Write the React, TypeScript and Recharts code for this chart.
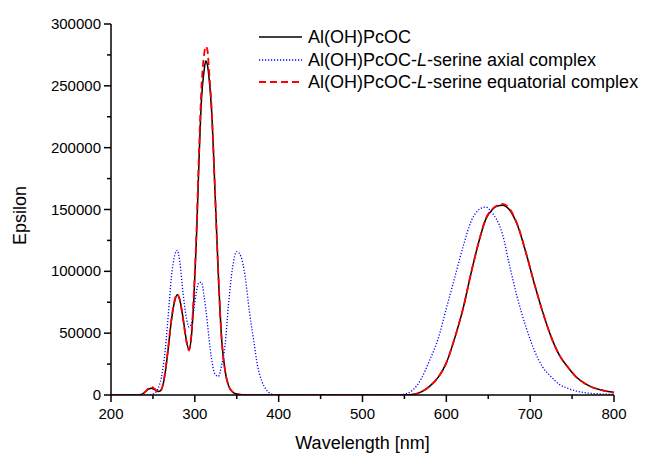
import React from 'react';
import { LineChart, Line, XAxis, YAxis, Legend, Label } from 'recharts';

const wavelengths = [200, 210, 220, 230, 235, 240, 245, 248, 252, 256, 260, 264, 268, 272, 276, 279, 282, 286, 290, 293, 296, 299, 302, 305, 308, 311, 313, 315, 317, 320, 324, 328, 332, 336, 340, 345, 350, 355, 360, 365, 370, 375, 380, 385, 390, 395, 400, 450, 500, 540, 550, 560, 570, 580, 590, 600, 610, 620, 630, 640, 647, 655, 660, 667, 675, 685, 695, 705, 715, 725, 735, 745, 755, 765, 775, 785, 800];

const pcoc = [0, 0, 0, 0, 300, 2000, 4800, 5500, 4300, 2900, 4000, 15000, 36000, 60000, 76000, 81000, 77000, 62000, 44000, 36500, 48000, 80000, 128000, 190000, 240000, 262000, 270000, 267000, 256000, 230000, 166000, 98000, 45000, 20000, 8000, 2500, 800, 200, 0, 0, 0, 0, 0, 0, 0, 0, 0, 0, 0, 0, 0, 400, 2500, 7000, 14000, 26000, 46000, 70000, 100000, 127000, 142000, 150000, 152500, 153500, 150000, 137000, 115000, 90000, 67000, 47000, 32000, 22500, 14500, 9400, 6000, 4000, 2000];

const axial = [0, 0, 0, 0, 0, 0, 0, 300, 1500, 5000, 14000, 32000, 62000, 95000, 113000, 117000, 108000, 82000, 62000, 55000, 58000, 70000, 84000, 91000, 91000, 80000, 70000, 58000, 45000, 29000, 17000, 15000, 24000, 40000, 72000, 103000, 116000, 112000, 96000, 68000, 45000, 23000, 11000, 4500, 1200, 200, 0, 0, 0, 0, 700, 4000, 13000, 28000, 45000, 70000, 95000, 120000, 141000, 150500, 152000, 147000, 142000, 130000, 106000, 78000, 55000, 36000, 22500, 14800, 8500, 5400, 3200, 1900, 1200, 800, 500];

const equatorial = [0, 0, 0, 0, 300, 2200, 5500, 6800, 5000, 2600, 4500, 16000, 37000, 61000, 77000, 81500, 77000, 61000, 43000, 36000, 50000, 85000, 133000, 198000, 250000, 275000, 282000, 279000, 262000, 232000, 166000, 98000, 45000, 20000, 8000, 2500, 800, 200, 0, 0, 0, 0, 0, 0, 0, 0, 0, 0, 0, 0, 0, 400, 2500, 7000, 14000, 26000, 46000, 70000, 100000, 127000, 142500, 150500, 153000, 154500, 151000, 137500, 115000, 90000, 67000, 47000, 32000, 22500, 14500, 9400, 6000, 4000, 2000];

const xTicks = [200, 250, 300, 350, 400, 450, 500, 550, 600, 650, 700, 750, 800];
const yTicks = [0, 25000, 50000, 75000, 100000, 125000, 150000, 175000, 200000, 225000, 250000, 275000, 300000];

const seriesNames = ['Al(OH)PcOC', 'Al(OH)PcOC-L-serine axial complex', 'Al(OH)PcOC-L-serine equatorial complex'];

const data = wavelengths.map((w, i) => ({ w, pcoc: pcoc[i], axial: axial[i], equatorial: equatorial[i] }));

const FONT = '"Liberation Sans", Arial, sans-serif';

const XTick = (props: any) => {
  const { x, y, payload } = props;
  const major = payload.value % 100 === 0;
  return (
    <g>
      <line x1={x} x2={x} y1={y} y2={y + (major ? 7 : 4)} stroke="#000" strokeWidth={1.5} />
      {major && (
        <text x={x} y={y + 24} textAnchor="middle" fontSize={15} fontFamily={FONT} fill="#000">
          {payload.value}
        </text>
      )}
    </g>
  );
};

const YTick = (props: any) => {
  const { x, y, payload } = props;
  const major = payload.value % 50000 === 0;
  return (
    <g>
      <line x1={x - (major ? 7 : 4)} x2={x} y1={y} y2={y} stroke="#000" strokeWidth={1.5} />
      {major && (
        <text x={x - 10} y={y + 5} textAnchor="end" fontSize={15} fontFamily={FONT} fill="#000">
          {payload.value}
        </text>
      )}
    </g>
  );
};

const renderName = (name: string) => {
  const parts = name.split('-L-');
  if (parts.length === 1) return name;
  return (
    <>
      {parts[0]}-<i>L</i>-{parts[1]}
    </>
  );
};

const LegendContent = () => {
  const styles = [
    { stroke: '#000', dash: undefined, w: 1.5 },
    { stroke: '#0000ff', dash: '1.2 1.8', w: 1.3 },
    { stroke: '#ff0000', dash: '7 4', w: 1.8 },
  ];
  return (
    <div style={{ fontFamily: FONT, fontSize: 18, color: '#000', lineHeight: '22.5px' }}>
      {seriesNames.map((n, i) => (
        <div key={n} style={{ display: 'flex', alignItems: 'center', height: 22.5, whiteSpace: 'nowrap' }}>
          <svg width={46} height={10} style={{ marginRight: 3 }}>
            <line x1={0} x2={43} y1={5} y2={5} stroke={styles[i].stroke} strokeWidth={styles[i].w} strokeDasharray={styles[i].dash} />
          </svg>
          <span>{renderName(n)}</span>
        </div>
      ))}
    </div>
  );
};

export default function App() {
  return (
    <div style={{ position: 'absolute', left: 0, top: 0, background: '#fff' }}>
      <LineChart width={648} height={455} data={data} margin={{ top: 24, right: 34, bottom: 0, left: 0 }}>
        <XAxis
          dataKey="w"
          type="number"
          domain={[200, 800]}
          ticks={xTicks}
          interval={0}
          tickSize={0}
          tickMargin={0}
          tickLine={false}
          tick={<XTick />}
          axisLine={{ stroke: '#000', strokeWidth: 1.5 }}
          height={60}
          allowDataOverflow
        >
          <Label
            content={(p: any) => {
              const vb = p.viewBox;
              return (
                <text x={vb.x + vb.width / 2} y={vb.y + 54} textAnchor="middle" fontSize={18} fontFamily={FONT} fill="#000">
                  Wavelength [nm]
                </text>
              );
            }}
          />
        </XAxis>
        <YAxis
          type="number"
          domain={[0, 300000]}
          ticks={yTicks}
          interval={0}
          tickSize={0}
          tickMargin={0}
          tickLine={false}
          tick={<YTick />}
          axisLine={{ stroke: '#000', strokeWidth: 1.5 }}
          width={111}
          allowDataOverflow
        >
          <Label
            content={(p: any) => {
              const vb = p.viewBox;
              const cx = vb.x + 20;
              const cy = vb.y + vb.height / 2 + 6;
              return (
                <text x={cx} y={cy} transform={`rotate(-90, ${cx}, ${cy})`} textAnchor="middle" dominantBaseline="central" fontSize={18} fontFamily={FONT} fill="#000">
                  Epsilon
                </text>
              );
            }}
          />
        </YAxis>
        <Legend
          layout="vertical"
          align="center"
          verticalAlign="middle"
          content={<LegendContent />}
          wrapperStyle={{ position: 'absolute', left: 259, top: 26, width: 'auto' }}
        />
        <Line type="monotone" dataKey="pcoc" name={seriesNames[0]} stroke="#000" strokeWidth={1.5} dot={false} isAnimationActive={false} />
        <Line type="monotone" dataKey="axial" name={seriesNames[1]} stroke="#0000ff" strokeWidth={1.3} strokeDasharray="1.2 1.8" dot={false} isAnimationActive={false} />
        <Line type="monotone" dataKey="equatorial" name={seriesNames[2]} stroke="#ff0000" strokeWidth={1.8} strokeDasharray="7 4" dot={false} isAnimationActive={false} />
      </LineChart>
    </div>
  );
}
